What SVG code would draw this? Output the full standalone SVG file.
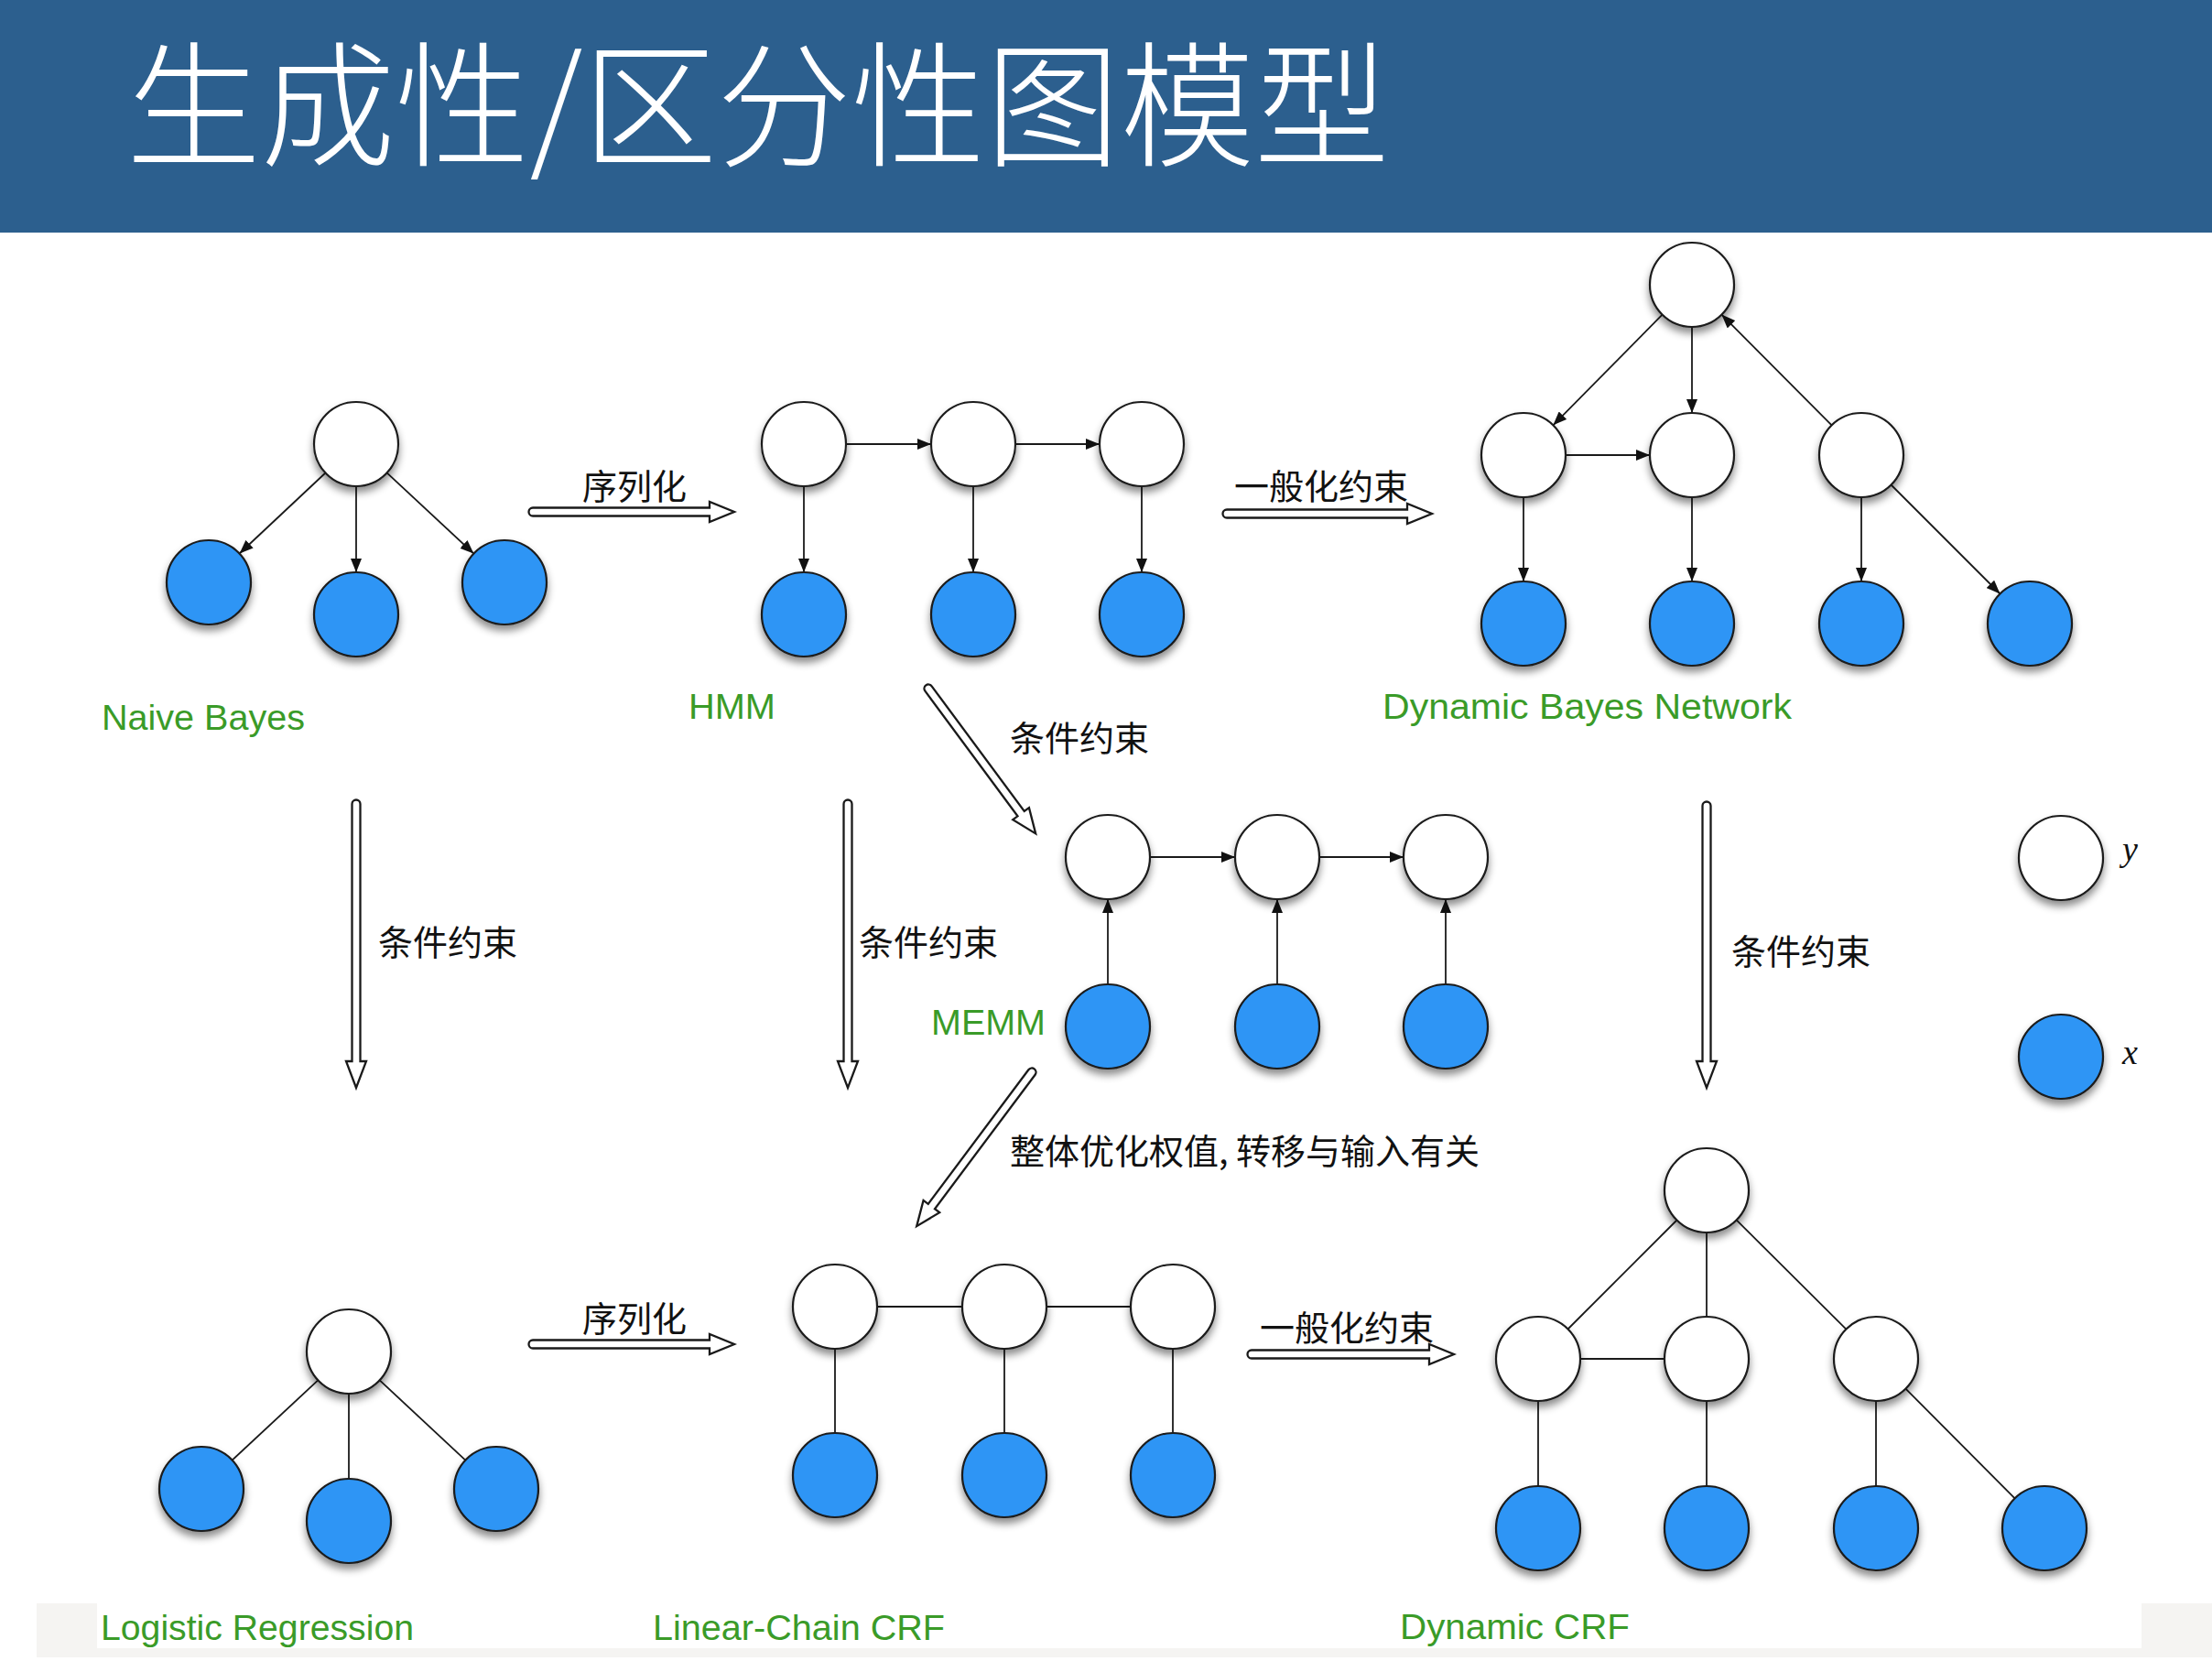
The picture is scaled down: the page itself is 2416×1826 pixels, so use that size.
<svg xmlns="http://www.w3.org/2000/svg" width="2416" height="1826" viewBox="0 0 2416 1826">
  <defs>
    <filter id="shadow" x="-30%" y="-30%" width="160%" height="180%">
      <feDropShadow dx="0" dy="6" stdDeviation="4" flood-color="#000" flood-opacity="0.45"/>
    </filter>
    <marker id="arr" viewBox="0 0 15 12" refX="15" refY="6" markerWidth="15" markerHeight="12" markerUnits="userSpaceOnUse" orient="auto">
      <path d="M0,0 L15,6 L0,12 Z" fill="#111"/>
    </marker>
  </defs>
  <style>
    .y { fill: #ffffff; stroke: #1a1a1a; stroke-width: 2.2; filter: url(#shadow); }
    .x { fill: #2e95f5; stroke: #1a1a1a; stroke-width: 2.2; filter: url(#shadow); }
    .e { stroke: #1a1a1a; stroke-width: 1.8; fill: none; }
    .d { stroke: #1a1a1a; stroke-width: 1.8; fill: none; marker-end: url(#arr); }
    .h { fill: #ffffff; stroke: #1a1a1a; stroke-width: 2.3; stroke-linejoin: miter; }
    .lbl { font-family: "Liberation Sans", "DejaVu Sans", sans-serif; font-size: 38px; fill: #3a9b28; }
    .cn { font-family: "Noto Sans CJK SC", "Noto Sans", sans-serif; font-size: 38px; fill: #111; }
    .mv { font-family: "Liberation Serif", "DejaVu Serif", serif; font-style: italic; font-size: 38px; fill: #111; }
  </style>

  <rect x="0" y="0" width="2416" height="1826" fill="#ffffff"/>
  <rect x="0" y="0" width="2416" height="254" fill="#2c5f8e"/>
  <text x="138" y="170" font-family="Noto Sans CJK SC, sans-serif" font-weight="300" font-size="148" fill="#ffffff" textLength="1379" lengthAdjust="spacingAndGlyphs">生成性/区分性图模型</text>

  <rect x="40" y="1751" width="2376" height="59" fill="#f5f4f2"/>
  <rect x="106" y="1751" width="2233" height="49" fill="#ffffff"/>

  <g id="connectors">
    <!-- Naive Bayes -->
    <line class="d" x1="355.4" y1="516.5" x2="261.6" y2="604.5"/>
    <line class="d" x1="389" y1="531" x2="389" y2="625"/>
    <line class="d" x1="422.6" y1="516.4" x2="517.4" y2="604.6"/>
    <!-- HMM -->
    <line class="d" x1="924" y1="485" x2="1017" y2="485"/>
    <line class="d" x1="1109" y1="485" x2="1201" y2="485"/>
    <line class="d" x1="878" y1="531" x2="878" y2="625"/>
    <line class="d" x1="1063" y1="531" x2="1063" y2="625"/>
    <line class="d" x1="1247" y1="531" x2="1247" y2="625"/>
    <!-- DBN -->
    <line class="d" x1="1815.6" y1="343.7" x2="1696.4" y2="464.3"/>
    <line class="d" x1="1848" y1="357" x2="1848" y2="451"/>
    <line class="d" x1="2000.6" y1="464.4" x2="1880.4" y2="343.6"/>
    <line class="d" x1="1710" y1="497" x2="1802" y2="497"/>
    <line class="d" x1="1664" y1="543" x2="1664" y2="635"/>
    <line class="d" x1="1848" y1="543" x2="1848" y2="635"/>
    <line class="d" x1="2033" y1="543" x2="2033" y2="635"/>
    <line class="d" x1="2065.5" y1="529.5" x2="2184.5" y2="648.5"/>
    <!-- MEMM -->
    <line class="d" x1="1256" y1="936" x2="1349" y2="936"/>
    <line class="d" x1="1441" y1="936" x2="1533" y2="936"/>
    <line class="d" x1="1210" y1="1075" x2="1210" y2="982"/>
    <line class="d" x1="1395" y1="1075" x2="1395" y2="982"/>
    <line class="d" x1="1579" y1="1075" x2="1579" y2="982"/>
    <!-- Logistic Regression -->
    <line class="e" x1="347.3" y1="1507.4" x2="253.7" y2="1594.6"/>
    <line class="e" x1="381" y1="1522" x2="381" y2="1615"/>
    <line class="e" x1="414.7" y1="1507.4" x2="508.3" y2="1594.6"/>
    <!-- Linear-Chain CRF -->
    <line class="e" x1="958" y1="1427" x2="1051" y2="1427"/>
    <line class="e" x1="1143" y1="1427" x2="1235" y2="1427"/>
    <line class="e" x1="912" y1="1473" x2="912" y2="1565"/>
    <line class="e" x1="1097" y1="1473" x2="1097" y2="1565"/>
    <line class="e" x1="1281" y1="1473" x2="1281" y2="1565"/>
    <!-- Dynamic CRF -->
    <line class="e" x1="1831.5" y1="1332.5" x2="1712.5" y2="1451.5"/>
    <line class="e" x1="1864" y1="1346" x2="1864" y2="1438"/>
    <line class="e" x1="1896.6" y1="1332.4" x2="2016.4" y2="1451.6"/>
    <line class="e" x1="1726" y1="1484" x2="1818" y2="1484"/>
    <line class="e" x1="1680" y1="1530" x2="1680" y2="1623"/>
    <line class="e" x1="1864" y1="1530" x2="1864" y2="1623"/>
    <line class="e" x1="2049" y1="1530" x2="2049" y2="1623"/>
    <line class="e" x1="2081.4" y1="1516.6" x2="2200.6" y2="1636.4"/>

    <!-- hollow transformation arrows -->
    <path class="h" transform="translate(582,559)" d="M0,-4.5 H193 V-11 L220,0 L193,11 V4.5 H0 A4.5,4.5 0 0 1 0,-4.5 Z"/>
    <path class="h" transform="translate(1340,561)" d="M0,-4.5 H197 V-11 L224,0 L197,11 V4.5 H0 A4.5,4.5 0 0 1 0,-4.5 Z"/>
    <path class="h" transform="translate(1014,752) rotate(53.5)" d="M0,-4.5 H170 V-11 L197,0 L170,11 V4.5 H0 A4.5,4.5 0 0 1 0,-4.5 Z"/>
    <path class="h" transform="translate(389,878) rotate(90)" d="M0,-4.5 H281 V-11 L310,0 L281,11 V4.5 H0 A4.5,4.5 0 0 1 0,-4.5 Z"/>
    <path class="h" transform="translate(926,878) rotate(90)" d="M0,-4.5 H281 V-11 L310,0 L281,11 V4.5 H0 A4.5,4.5 0 0 1 0,-4.5 Z"/>
    <path class="h" transform="translate(1864,880) rotate(90)" d="M0,-4.5 H279 V-11 L308,0 L279,11 V4.5 H0 A4.5,4.5 0 0 1 0,-4.5 Z"/>
    <path class="h" transform="translate(1127,1171) rotate(126.8)" d="M0,-4.5 H183 V-11 L210,0 L183,11 V4.5 H0 A4.5,4.5 0 0 1 0,-4.5 Z"/>
    <path class="h" transform="translate(582,1468)" d="M0,-4.5 H193 V-11 L220,0 L193,11 V4.5 H0 A4.5,4.5 0 0 1 0,-4.5 Z"/>
    <path class="h" transform="translate(1367,1479)" d="M0,-4.5 H194 V-11 L221,0 L194,11 V4.5 H0 A4.5,4.5 0 0 1 0,-4.5 Z"/>
  </g>

  <!-- Naive Bayes -->
  <g id="nb-y"><circle class="y" cx="389" cy="485" r="46"/></g>
  <g id="nb-x1"><circle class="x" cx="228" cy="636" r="46"/></g>
  <g id="nb-x2"><circle class="x" cx="389" cy="671" r="46"/></g>
  <g id="nb-x3"><circle class="x" cx="551" cy="636" r="46"/></g>

  <!-- HMM -->
  <g id="hmm-y1"><circle class="y" cx="878" cy="485" r="46"/></g>
  <g id="hmm-y2"><circle class="y" cx="1063" cy="485" r="46"/></g>
  <g id="hmm-y3"><circle class="y" cx="1247" cy="485" r="46"/></g>
  <g id="hmm-x1"><circle class="x" cx="878" cy="671" r="46"/></g>
  <g id="hmm-x2"><circle class="x" cx="1063" cy="671" r="46"/></g>
  <g id="hmm-x3"><circle class="x" cx="1247" cy="671" r="46"/></g>

  <!-- Dynamic Bayes Network -->
  <g id="dbn-top"><circle class="y" cx="1848" cy="311" r="46"/></g>
  <g id="dbn-m1"><circle class="y" cx="1664" cy="497" r="46"/></g>
  <g id="dbn-m2"><circle class="y" cx="1848" cy="497" r="46"/></g>
  <g id="dbn-m3"><circle class="y" cx="2033" cy="497" r="46"/></g>
  <g id="dbn-b1"><circle class="x" cx="1664" cy="681" r="46"/></g>
  <g id="dbn-b2"><circle class="x" cx="1848" cy="681" r="46"/></g>
  <g id="dbn-b3"><circle class="x" cx="2033" cy="681" r="46"/></g>
  <g id="dbn-b4"><circle class="x" cx="2217" cy="681" r="46"/></g>

  <!-- MEMM -->
  <g id="memm-y1"><circle class="y" cx="1210" cy="936" r="46"/></g>
  <g id="memm-y2"><circle class="y" cx="1395" cy="936" r="46"/></g>
  <g id="memm-y3"><circle class="y" cx="1579" cy="936" r="46"/></g>
  <g id="memm-x1"><circle class="x" cx="1210" cy="1121" r="46"/></g>
  <g id="memm-x2"><circle class="x" cx="1395" cy="1121" r="46"/></g>
  <g id="memm-x3"><circle class="x" cx="1579" cy="1121" r="46"/></g>

  <!-- Legend -->
  <g id="legend-y"><circle class="y" cx="2251" cy="937" r="46"/><text class="mv" x="2318" y="940">y</text></g>
  <g id="legend-x"><circle class="x" cx="2251" cy="1154" r="46"/><text class="mv" x="2318" y="1162">x</text></g>

  <!-- Logistic Regression -->
  <g id="lr-y"><circle class="y" cx="381" cy="1476" r="46"/></g>
  <g id="lr-x1"><circle class="x" cx="220" cy="1626" r="46"/></g>
  <g id="lr-x2"><circle class="x" cx="381" cy="1661" r="46"/></g>
  <g id="lr-x3"><circle class="x" cx="542" cy="1626" r="46"/></g>

  <!-- Linear-Chain CRF -->
  <g id="crf-y1"><circle class="y" cx="912" cy="1427" r="46"/></g>
  <g id="crf-y2"><circle class="y" cx="1097" cy="1427" r="46"/></g>
  <g id="crf-y3"><circle class="y" cx="1281" cy="1427" r="46"/></g>
  <g id="crf-x1"><circle class="x" cx="912" cy="1611" r="46"/></g>
  <g id="crf-x2"><circle class="x" cx="1097" cy="1611" r="46"/></g>
  <g id="crf-x3"><circle class="x" cx="1281" cy="1611" r="46"/></g>

  <!-- Dynamic CRF -->
  <g id="dcrf-top"><circle class="y" cx="1864" cy="1300" r="46"/></g>
  <g id="dcrf-m1"><circle class="y" cx="1680" cy="1484" r="46"/></g>
  <g id="dcrf-m2"><circle class="y" cx="1864" cy="1484" r="46"/></g>
  <g id="dcrf-m3"><circle class="y" cx="2049" cy="1484" r="46"/></g>
  <g id="dcrf-b1"><circle class="x" cx="1680" cy="1669" r="46"/></g>
  <g id="dcrf-b2"><circle class="x" cx="1864" cy="1669" r="46"/></g>
  <g id="dcrf-b3"><circle class="x" cx="2049" cy="1669" r="46"/></g>
  <g id="dcrf-b4"><circle class="x" cx="2233" cy="1669" r="46"/></g>

  <!-- Model labels -->
  <g id="labels">
    <text class="lbl" x="111" y="797" textLength="222" lengthAdjust="spacingAndGlyphs">Naive Bayes</text>
    <text class="lbl" x="752" y="785" textLength="95" lengthAdjust="spacingAndGlyphs">HMM</text>
    <text class="lbl" x="1510" y="785" textLength="447" lengthAdjust="spacingAndGlyphs">Dynamic Bayes Network</text>
    <text class="lbl" x="1017" y="1130" textLength="125" lengthAdjust="spacingAndGlyphs">MEMM</text>
    <text class="lbl" x="110" y="1791" textLength="342" lengthAdjust="spacingAndGlyphs">Logistic Regression</text>
    <text class="lbl" x="713" y="1791" textLength="319" lengthAdjust="spacingAndGlyphs">Linear-Chain CRF</text>
    <text class="lbl" x="1529" y="1790" textLength="251" lengthAdjust="spacingAndGlyphs">Dynamic CRF</text>
  </g>

  <!-- Transformation labels -->
  <g id="edge-labels">
    <text class="cn" x="636" y="545">序列化</text>
    <text class="cn" x="1348" y="545">一般化约束</text>
    <text class="cn" x="1103" y="820">条件约束</text>
    <text class="cn" x="413" y="1043">条件约束</text>
    <text class="cn" x="938" y="1043">条件约束</text>
    <text class="cn" x="1891" y="1053">条件约束</text>
    <text class="cn" x="1103" y="1271">整体优化权值, 转移与输入有关</text>
    <text class="cn" x="636" y="1454">序列化</text>
    <text class="cn" x="1376" y="1464">一般化约束</text>
  </g>
</svg>
